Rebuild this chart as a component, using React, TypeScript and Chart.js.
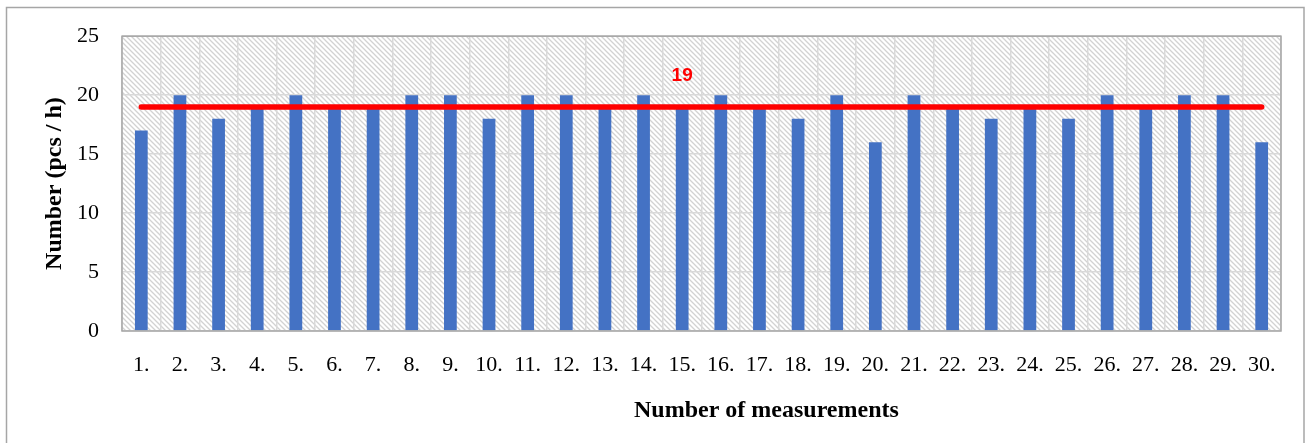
import React, { useEffect, useRef } from "react";
import { Chart, registerables } from "chart.js";

Chart.register(...registerables);

const categories = ["1.", "2.", "3.", "4.", "5.", "6.", "7.", "8.", "9.", "10.", "11.", "12.", "13.", "14.", "15.", "16.", "17.", "18.", "19.", "20.", "21.", "22.", "23.", "24.", "25.", "26.", "27.", "28.", "29.", "30."];
const measured = [17, 20, 18, 19, 20, 19, 19, 20, 20, 18, 20, 20, 19, 20, 19, 20, 19, 18, 20, 16, 20, 19, 18, 19, 18, 20, 19, 20, 20, 16];
const averageValue = 19;
const averageLine = categories.map(() => averageValue);
const averageLabelIndex = 14;
const yTitle = "Number (pcs / h)";
const xTitle = "Number of measurements";

function makeHatch(): CanvasPattern | string {
  const s = 5;
  const c = document.createElement("canvas");
  c.width = s;
  c.height = s;
  const g = c.getContext("2d");
  if (!g) return "#ffffff";
  g.fillStyle = "#ffffff";
  g.fillRect(0, 0, s, s);
  g.strokeStyle = "#d2d2d2";
  g.lineWidth = 1.3;
  g.beginPath();
  g.moveTo(-1, -1);
  g.lineTo(s + 1, s + 1);
  g.moveTo(s - 1, -1);
  g.lineTo(s + 1, 1);
  g.moveTo(-1, s - 1);
  g.lineTo(1, s + 1);
  g.stroke();
  const p = g.createPattern(c, "repeat");
  return p || "#ffffff";
}

export default function App() {
  const ref = useRef<HTMLCanvasElement | null>(null);

  useEffect(() => {
    if (!ref.current) return;
    const hatch = makeHatch();

    const framePlugin = {
      id: "frame",
      beforeDraw(chart: any) {
        const { ctx, chartArea } = chart;
        ctx.save();
        ctx.fillStyle = "#ffffff";
        ctx.fillRect(0, 0, chart.width, chart.height);
        ctx.strokeStyle = "#a6a6a6";
        ctx.lineWidth = 1.5;
        ctx.strokeRect(6.5, 7.5, 1297.5, 500);
        ctx.fillStyle = hatch as any;
        ctx.fillRect(chartArea.left, chartArea.top, chartArea.right - chartArea.left, chartArea.bottom - chartArea.top);
        ctx.restore();
      },
      afterDraw(chart: any) {
        const { ctx, chartArea } = chart;
        ctx.save();
        ctx.strokeStyle = "#a6a6a6";
        ctx.lineWidth = 1.5;
        ctx.strokeRect(chartArea.left, chartArea.top, chartArea.right - chartArea.left, chartArea.bottom - chartArea.top);
        ctx.fillStyle = "#000000";
        ctx.font = "bold 24px 'Liberation Serif'";
        ctx.textAlign = "center";
        ctx.textBaseline = "alphabetic";
        const cx = chartArea.left + (chartArea.right - chartArea.left) * 0.556;
        ctx.fillText(xTitle, cx, 416.5);
        ctx.restore();
      },
      afterDatasetsDraw(chart: any) {
        const meta = chart.getDatasetMeta(1);
        const pt = meta.data[averageLabelIndex];
        if (!pt) return;
        const { ctx } = chart;
        ctx.save();
        ctx.fillStyle = "#ff0000";
        ctx.font = "bold 19px 'Liberation Sans'";
        ctx.textAlign = "center";
        ctx.textBaseline = "middle";
        ctx.fillText(String(averageValue), pt.x, pt.y - 31);
        ctx.restore();
      },
    };

    const chart = new Chart(ref.current, {
      type: "bar",
      data: {
        labels: categories,
        datasets: [
          {
            type: "bar",
            data: measured,
            backgroundColor: "#4472C4",
            borderWidth: 0,
            barPercentage: 0.33,
            categoryPercentage: 1,
            order: 1,
          } as any,
          {
            type: "line",
            data: averageLine,
            borderColor: "#ff0000",
            borderWidth: 5.5,
            borderCapStyle: "round",
            pointRadius: 0,
            fill: false,
            order: 0,
          } as any,
        ],
      },
      options: {
        responsive: false,
        animation: false,
        layout: { padding: { left: 0, top: 35, right: 28, bottom: 0 } },
        plugins: {
          legend: { display: false },
          tooltip: { enabled: false },
        },
        scales: {
          x: {
            grid: { color: "#d9d9d9", lineWidth: 1.5, drawTicks: false, offset: true },
            border: { display: false },
            ticks: {
              color: "#000000",
              font: { family: "'Liberation Serif'", size: 22 },
              padding: 21,
              maxRotation: 0,
              autoSkip: false,
            },
            afterFit(scale: any) {
              scale.height = 112;
            },
          },
          y: {
            min: 0,
            max: 25,
            grid: { color: "#d9d9d9", lineWidth: 1.5, drawTicks: false },
            border: { display: false },
            ticks: {
              stepSize: 5,
              color: "#000000",
              font: { family: "'Liberation Serif'", size: 22 },
              padding: 23,
            },
            title: {
              display: true,
              text: yTitle,
              color: "#000000",
              font: { family: "'Liberation Serif'", size: 24, weight: "bold" },
              padding: { top: 40, bottom: 0 },
            },
            afterFit(scale: any) {
              scale.width = 122;
            },
          },
        },
      },
      plugins: [framePlugin],
    });

    return () => chart.destroy();
  }, []);

  return (
    <div style={{ position: "fixed", left: 0, top: 0, width: 1309, height: 443 }}>
      <canvas ref={ref} width={1309} height={443} style={{ display: "block" }} />
    </div>
  );
}
